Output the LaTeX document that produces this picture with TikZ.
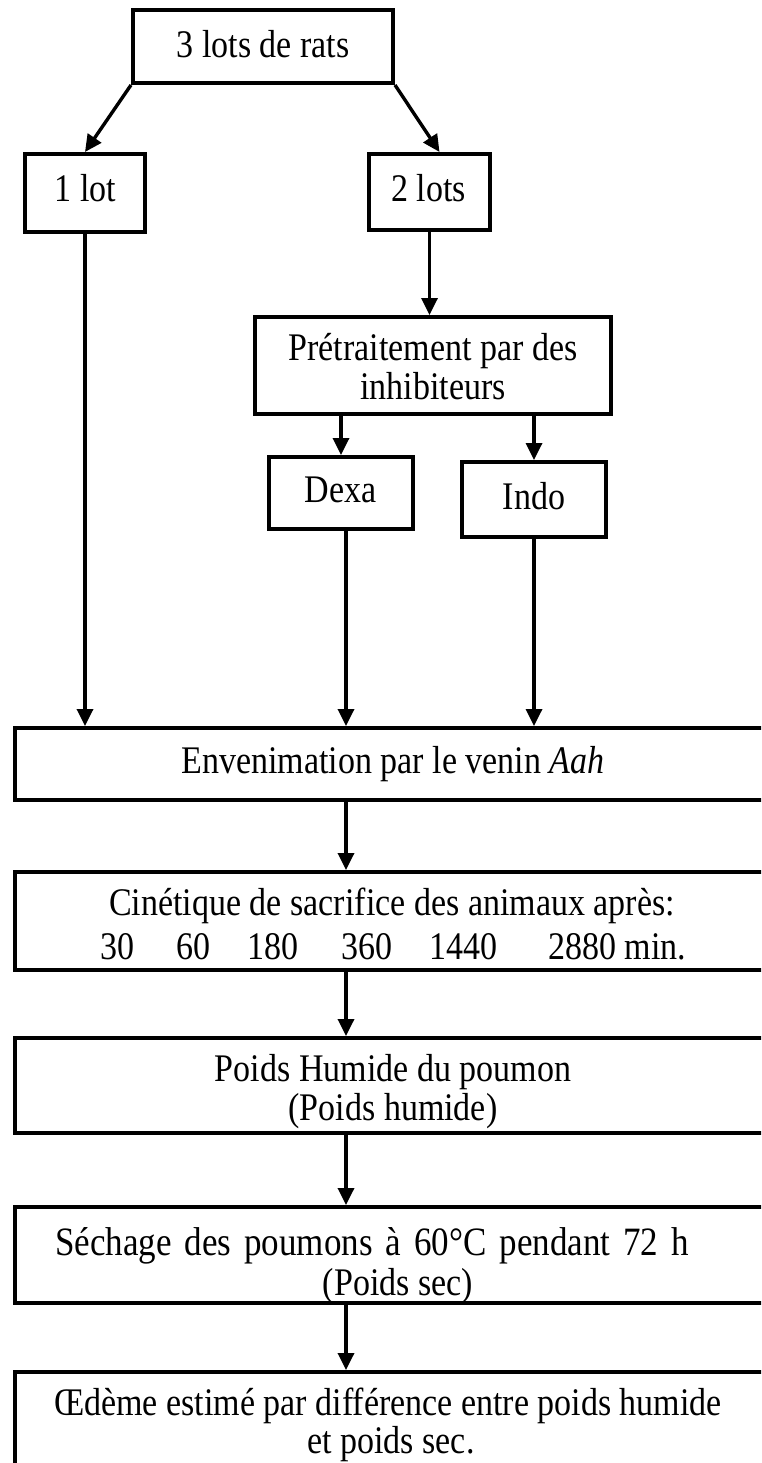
\documentclass[tikz,border=0pt]{standalone}
\usepackage{graphicx}
\usepackage{fontspec}
\setmainfont{Liberation Serif}
\usetikzlibrary{arrows.meta}
% text set slightly taller than its natural proportions
\newcommand\tallt[1]{\scalebox{1}[1.15]{#1}}

\begin{document}
\begin{tikzpicture}[x=1pt,y=-1pt,
  box/.style={draw, line width=4pt, inner sep=0pt},
  conn/.style={line width=3.4pt, -{Triangle[length=17pt,width=16pt]}},
  txt/.style={inner sep=0pt, anchor=base, font=\fontsize{34}{38}\selectfont},
  numtxt/.style={txt, anchor=base west}]
\useasboundingbox (0,0) rectangle (761,1463);
\clip (0,0) rectangle (761,1463);

% boxes
\node[box, minimum width=260pt, minimum height=73pt] (top)  at (263,46.5) {};
\node[box, minimum width=120pt, minimum height=78pt] (lot1) at (85,193) {};
\node[box, minimum width=121pt, minimum height=76pt] (lot2) at (429.5,192) {};
\node[box, minimum width=356pt, minimum height=97pt] (pre)  at (433,365.5) {};
\node[box, minimum width=144pt, minimum height=72pt] (dexa) at (341,493) {};
\node[box, minimum width=144pt, minimum height=75pt] (indo) at (534,499.5) {};
\node[box, minimum width=755pt, minimum height=72pt] (env)  at (392.5,764) {};
\node[box, minimum width=755pt, minimum height=98pt] (cin)  at (392.5,921) {};
\node[box, minimum width=755pt, minimum height=95pt] (hum)  at (392.5,1085.5) {};
\node[box, minimum width=755pt, minimum height=96pt] (sech) at (392.5,1255) {};
\node[box, minimum width=755pt, minimum height=118pt] (oed) at (392.5,1431) {};

% texts
\node[txt] (ttop) at (263,58) {\tallt{3 lots de rats}};
\node[txt] (tlot1) at (85.5,202) {\tallt{1 lot}};
\node[txt] (tlot2) at (428.5,202) {\tallt{2 lots}};
\node[txt] (tpre1) at (433,360) {\tallt{Prétraitement par des}};
\node[txt] (tpre2) at (433,399) {\tallt{inhibiteurs}};
\node[txt] (tdexa) at (340.5,502) {\tallt{Dexa}};
\node[txt] (tindo) at (534,509) {\tallt{Indo}};
\node[txt] (tenv) at (393,773) {\tallt{Envenimation par le venin \textit{Aah}}};
\node[txt] (tcin) at (392,915) {\tallt{Cinétique de sacrifice des animaux après:}};
\node[numtxt] (t30)   at (100,959) {\tallt{30}};
\node[numtxt] (t60)   at (176,959) {\tallt{60}};
\node[numtxt] (t180)  at (247,959) {\tallt{180}};
\node[numtxt] (t360)  at (341,959) {\tallt{360}};
\node[numtxt] (t1440) at (429,959) {\tallt{1440}};
\node[numtxt] (t2880) at (548,959) {\tallt{2880 min.}};
\node[txt] (thum1) at (393,1081) {\tallt{Poids Humide du poumon}};
\node[txt] (thum2) at (393,1120) {\tallt{(Poids humide)}};
\node[txt, font=\fontsize{35}{38}\selectfont] (tsech1) at (372,1255)
  {\tallt{\spaceskip=13pt Séchage des poumons à 60°C pendant 72 h}};
\node[txt] (tsech2) at (398,1295) {\tallt{(Poids sec)}};
\node[txt] (toed1) at (388,1415) {\tallt{Œdème estimé par différence entre poids humide}};
\node[txt] (toed2) at (391,1453) {\tallt{et poids sec.}};

% connectors
\coordinate (spine) at (346,0);
\draw[conn] (top.south west) -- (lot1.north);
\draw[conn] (top.south east) -- ([xshift=10pt]lot2.north);
\draw[conn] (lot2.south) -- (lot2.south |- pre.north);
\draw[conn] (dexa.north |- pre.south) -- (dexa.north);
\draw[conn] (indo.north |- pre.south) -- (indo.north);
\draw[conn] (lot1.south) -- (lot1.south |- env.north);
\draw[conn] (dexa.south -| spine) -- (env.north -| spine);
\draw[conn] (indo.south) -- (indo.south |- env.north);
\draw[conn] (env.south -| spine) -- (cin.north -| spine);
\draw[conn] (cin.south -| spine) -- (hum.north -| spine);
\draw[conn] (hum.south -| spine) -- (sech.north -| spine);
\draw[conn] (sech.south -| spine) -- (oed.north -| spine);
\end{tikzpicture}
\end{document}
